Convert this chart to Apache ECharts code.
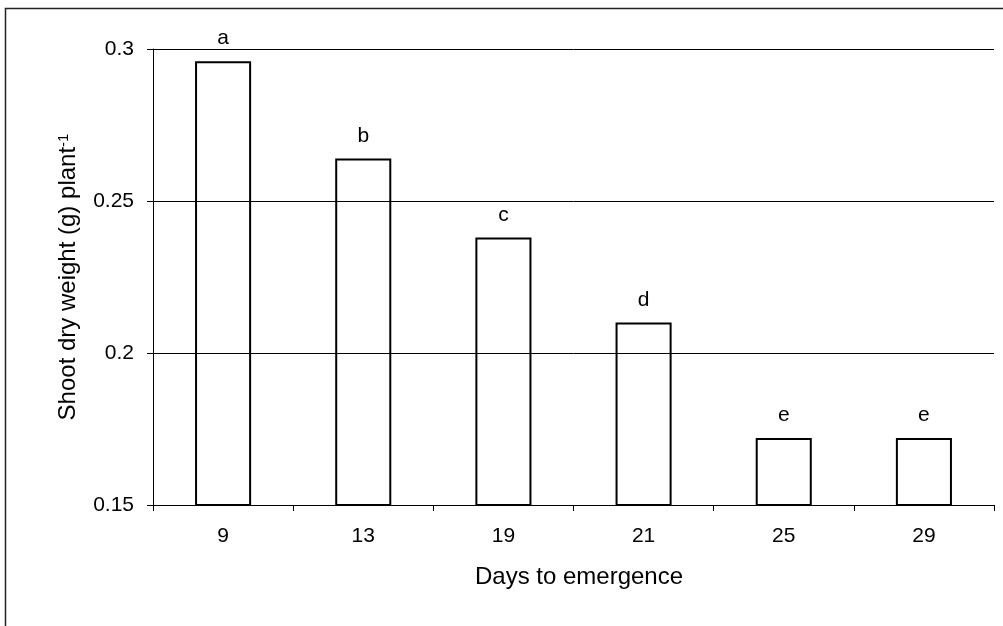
<!DOCTYPE html>
<html>
<head>
<meta charset="utf-8">
<script src="https://cdn.jsdelivr.net/npm/echarts@6/dist/echarts.min.js"></script>
<style>
  html, body { margin: 0; padding: 0; background: #fff; }
  #chart { width: 1003px; height: 626px; }
</style>
</head>
<body>
<div id="chart"></div>
<script>
// Shoot dry weight per plant by days to emergence
const days = ['9', '13', '19', '21', '25', '29'];
const shootWeight = [0.296, 0.264, 0.238, 0.210, 0.172, 0.172];
const groupLetters = ['a', 'b', 'c', 'd', 'e', 'e'];
const yTicks = [0.15, 0.2, 0.25, 0.3];

const FONT = '"Liberation Sans", Arial, sans-serif';

const chart = echarts.init(document.getElementById('chart'), null, { renderer: 'canvas' });

chart.setOption({
  animation: false,
  backgroundColor: '#fff',
  textStyle: { fontFamily: FONT, color: '#000' },
  graphic: [{
    type: 'rect',
    silent: true,
    shape: { x: 5.5, y: 8.5, width: 1100, height: 700 },
    style: { fill: 'none', stroke: '#222', lineWidth: 1.5 }
  }],
  grid: { left: 153, right: 9, top: 49, bottom: 121, containLabel: false },
  xAxis: {
    type: 'category',
    data: days,
    boundaryGap: true,
    name: 'Days to emergence',
    nameLocation: 'middle',
    nameGap: 60,
    nameTextStyle: { fontFamily: FONT, fontSize: 24, color: '#000', padding: [0, 0, 0, 11] },
    axisLine: { lineStyle: { color: '#000', width: 1 } },
    axisTick: { show: true, alignWithLabel: false, length: 6, lineStyle: { color: '#000' } },
    axisLabel: { fontFamily: FONT, fontSize: 21, color: '#000', margin: 21 },
    splitLine: { show: false }
  },
  yAxis: {
    type: 'value',
    min: yTicks[0],
    max: yTicks[yTicks.length - 1],
    interval: 0.05,
    name: 'Shoot dry weight (g) plant{sup|-1}',
    nameLocation: 'middle',
    nameGap: 73,
    nameTextStyle: {
      fontFamily: FONT, fontSize: 24, color: '#000',
      rich: {
        sup: { fontFamily: FONT, fontSize: 15, color: '#000', verticalAlign: 'top', lineHeight: 15 }
      }
    },
    axisLine: { show: true, lineStyle: { color: '#000', width: 1 } },
    axisTick: { show: true, length: 6, lineStyle: { color: '#000' } },
    axisLabel: {
      fontFamily: FONT, fontSize: 21, color: '#000', margin: 19,
      formatter: v => String(parseFloat(v.toFixed(2)))
    },
    splitLine: { show: true, lineStyle: { color: '#000', width: 1 } }
  },
  series: [{
    type: 'bar',
    data: shootWeight,
    barWidth: '40%',
    itemStyle: { color: 'rgba(0,0,0,0)', borderColor: '#000', borderWidth: 2 },
    label: {
      show: true,
      position: 'top',
      distance: 12,
      fontFamily: FONT,
      fontSize: 21,
      color: '#000',
      formatter: p => groupLetters[p.dataIndex]
    }
  }]
});
</script>
</body>
</html>
